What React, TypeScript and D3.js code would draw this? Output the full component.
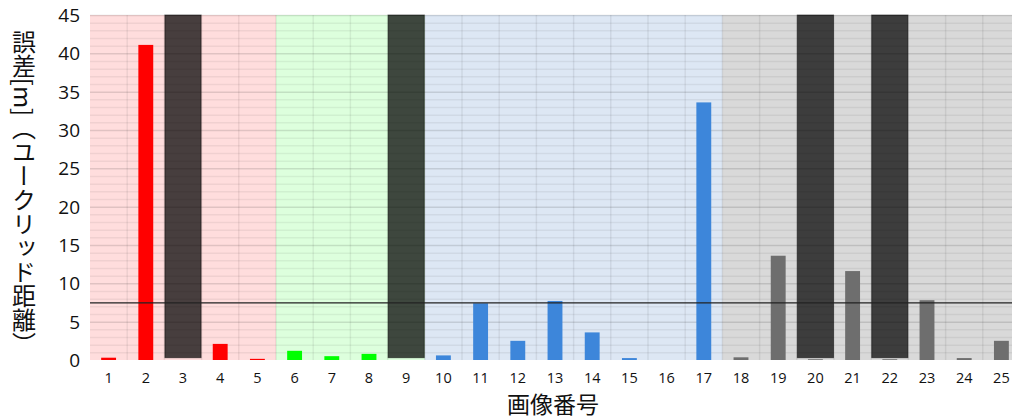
import React, { useRef, useEffect } from "react";
import * as d3 from "d3";

const categories = Array.from({ length: 25 }, (_, i) => String(i + 1));
const values = [0.3, 41.1, 0, 2.1, 0.15, 1.2, 0.5, 0.8, 0, 0.6, 7.4, 2.5, 7.7, 3.6, 0.25, 0, 33.6, 0.35, 13.6, 0.1, 11.6, 0.1, 7.8, 0.25, 2.5];
const groups = ["A", "A", "A", "A", "A", "B", "B", "B", "B", "C", "C", "C", "C", "C", "C", "C", "C", "D", "D", "D", "D", "D", "D", "D", "D"];
const missing = ["3", "9", "20", "22"];
const threshold = 7.45;
const yTicks = [0, 5, 10, 15, 20, 25, 30, 35, 40, 45];

const bgColor: Record<string, string> = { A: "#ffdddd", B: "#ddffdd", C: "#dde7f4", D: "#d9d9d9" };
const barColor: Record<string, string> = { A: "#ff0000", B: "#00ff00", C: "#3d86da", D: "#6e6e6e" };

const W = 1012;
const H = 420;
const m = { left: 90, right: 1020, top: 15, bottom: 360 };

const Chart = () => {
  const svgRef = useRef(null);

  useEffect(() => {
    document.body.style.margin = "0";
    document.body.style.overflow = "hidden";

    const svg = d3.select(svgRef.current);
    svg.selectAll("*").remove();

    const x = d3.scaleBand().domain(categories).range([m.left, m.right]).padding(0);
    const y = d3.scaleLinear().domain([0, 45]).range([m.bottom, m.top]);
    const bw = x.bandwidth();

    // background bands per group
    svg
      .append("g")
      .selectAll("rect")
      .data(categories)
      .enter()
      .append("rect")
      .attr("x", (d) => x(d))
      .attr("y", y(45))
      .attr("width", bw + 0.5)
      .attr("height", y(0) - y(45))
      .attr("fill", (d, i) => bgColor[groups[i]]);

    // minor grid every 1
    const grid = svg.append("g");
    grid
      .selectAll("line.minor")
      .data(d3.range(1, 46))
      .enter()
      .append("line")
      .attr("x1", m.left)
      .attr("x2", m.right)
      .attr("y1", (d) => y(d) + 0.5)
      .attr("y2", (d) => y(d) + 0.5)
      .attr("stroke", (d) => (d % 5 === 0 ? "rgba(0,0,0,0.12)" : "rgba(0,0,0,0.06)"))
      .attr("stroke-width", 1.5);

    // vertical grid at band edges
    grid
      .selectAll("line.v")
      .data(categories.slice(1))
      .enter()
      .append("line")
      .attr("x1", (d) => x(d))
      .attr("x2", (d) => x(d))
      .attr("y1", y(45))
      .attr("y2", y(0))
      .attr("stroke", "rgba(0,0,0,0.07)")
      .attr("stroke-width", 1.5);

    // bars
    svg
      .append("g")
      .selectAll("rect")
      .data(categories)
      .enter()
      .append("rect")
      .attr("x", (d) => x(d) + bw * 0.3)
      .attr("width", bw * 0.4)
      .attr("y", (d, i) => y(values[i]))
      .attr("height", (d, i) => y(0) - y(values[i]))
      .attr("fill", (d, i) => barColor[groups[i]]);

    // missing-image overlays
    svg
      .append("g")
      .selectAll("rect")
      .data(missing)
      .enter()
      .append("rect")
      .attr("x", (d) => x(d) + 0.5)
      .attr("width", bw - 1)
      .attr("y", y(45))
      .attr("height", y(0.3) - y(45))
      .attr("fill", "rgba(0,0,0,0.72)")
      .attr("stroke", "rgba(0,0,0,0.5)")
      .attr("stroke-width", 1);

    // threshold line
    svg
      .append("line")
      .attr("x1", m.left)
      .attr("x2", m.right)
      .attr("y1", y(threshold))
      .attr("y2", y(threshold))
      .attr("stroke", "#222")
      .attr("stroke-width", 1.2);

    // y tick labels
    svg
      .append("g")
      .selectAll("text")
      .data(yTicks)
      .enter()
      .append("text")
      .attr("x", 80)
      .attr("y", (d) => y(d))
      .attr("dy", "0.36em")
      .attr("text-anchor", "end")
      .attr("font-family", "'Open Sans', sans-serif")
      .attr("font-size", 19)
      .attr("fill", "#111")
      .text((d) => d);

    // x tick labels
    svg
      .append("g")
      .selectAll("text")
      .data(categories)
      .enter()
      .append("text")
      .attr("x", (d) => x(d) + bw / 2)
      .attr("y", 378)
      .attr("dy", "0.35em")
      .attr("text-anchor", "middle")
      .attr("font-family", "'Open Sans', sans-serif")
      .attr("font-size", 14.5)
      .attr("fill", "#111")
      .text((d) => d);

    // axis titles
    svg
      .append("text")
      .attr("x", 553)
      .attr("y", 413)
      .attr("text-anchor", "middle")
      .attr("font-family", "'Noto Sans CJK JP', sans-serif")
      .attr("font-size", 23)
      .attr("fill", "#111")
      .text("画像番号");

    svg
      .append("text")
      .attr("x", 24)
      .attr("y", 193)
      .attr("text-anchor", "middle")
      .attr("style", "writing-mode: vertical-rl; text-orientation: mixed;")
      .attr("font-family", "'Noto Sans CJK JP', sans-serif")
      .attr("font-size", 24)
      .attr("fill", "#111")
      .text("誤差[m]（ユークリッド距離）");
  }, []);

  return (
    <svg
      ref={svgRef}
      width={W}
      height={H}
      style={{ display: "block", position: "absolute", left: 0, top: 0 }}
    ></svg>
  );
};

export default function App() {
  return <Chart />;
}
